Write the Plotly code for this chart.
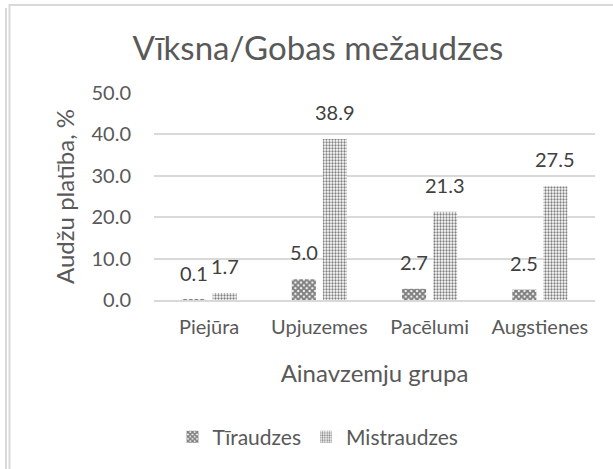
import plotly.graph_objects as go

categories = ["Piejūra", "Upjuzemes", "Pacēlumi", "Augstienes"]
tiraudzes = [0.1, 5.0, 2.7, 2.5]
mistraudzes = [1.7, 38.9, 21.3, 27.5]
y_ticks = [0, 10, 20, 30, 40, 50]
y_tick_labels = ["0.0", "10.0", "20.0", "30.0", "40.0", "50.0"]

W, H = 613, 469
ML, MR, MT, MB = 154, 18, 93, 169
PW, PH = W - ML - MR, H - MT - MB

def px(x):
    return (x - ML) / PW

def py(y):
    return (H - MB - y) / PH

FONT = "Lato"
TXT = "#595959"
LBL = "#404040"
GRID = "#d9d9d9"
BARGAP = 0.436

fig = go.Figure()
fig.add_trace(go.Bar(
    name="Tīraudzes", x=categories, y=tiraudzes,
    marker=dict(color="white", line=dict(width=0),
                pattern=dict(shape="x", fgcolor="black", bgcolor="white", size=4, solidity=0.75)),
))
fig.add_trace(go.Bar(
    name="Mistraudzes", x=categories, y=mistraudzes,
    marker=dict(color="white", line=dict(width=0),
                pattern=dict(shape=".", fgcolor="black", bgcolor="white", size=3, solidity=0.45)),
))

# data labels above each bar (Excel "outside end" style)
slot_px = PW / len(categories) * (1 - BARGAP) / 2
annotations = []
for series, shift in ((tiraudzes, -slot_px / 2), (mistraudzes, slot_px / 2)):
    for cat, val in zip(categories, series):
        annotations.append(dict(
            x=cat, y=val, xref="x", yref="y", text=f"{val:.1f}", showarrow=False,
            xanchor="center", yanchor="bottom", xshift=shift, yshift=13,
            font=dict(family=FONT, size=20, color=LBL),
        ))

shapes = [
    dict(type="line", xref="paper", yref="paper", x0=px(6), x1=px(6), y0=py(8), y1=py(469), line=dict(color=GRID, width=2)),
    dict(type="line", xref="paper", yref="paper", x0=px(9.5), x1=px(9.5), y0=py(4), y1=py(469), line=dict(color=GRID, width=2)),
    dict(type="line", xref="paper", yref="paper", x0=px(9), x1=px(613), y0=py(5), y1=py(5), line=dict(color=GRID, width=2)),
]

fig.update_layout(
    width=W, height=H,
    margin=dict(l=ML, r=MR, t=MT, b=MB),
    paper_bgcolor="white", plot_bgcolor="white",
    barmode="group", bargap=BARGAP, bargroupgap=0.226,
    font=dict(family=FONT, color=TXT, size=18),
    title=dict(text="Vīksna/Gobas mežaudzes", x=318 / W, xanchor="center",
               y=1 - 48 / H, yanchor="middle", font=dict(size=33, color=TXT, family=FONT)),
    xaxis=dict(title=dict(text="Ainavzemju grupa", font=dict(size=24, color=TXT), standoff=28),
               tickfont=dict(size=20, color=TXT), showline=True, linecolor=GRID, linewidth=1.5,
               ticks="", showgrid=False, ticklabelstandoff=8),
    yaxis=dict(title=dict(text="Audžu platība, %", font=dict(size=24, color=TXT), standoff=10),
               range=[0, 50], tickvals=y_ticks, ticktext=y_tick_labels,
               tickfont=dict(size=20, color=TXT), showgrid=True, gridcolor=GRID, gridwidth=1.5,
               zeroline=False, ticks="", ticklabelstandoff=22),
    legend=dict(orientation="h", x=px(318), xanchor="center", y=py(437), yanchor="middle",
                font=dict(size=21, color=TXT), itemwidth=30),
    shapes=shapes,
    annotations=annotations,
)

fig.write_html("out.html", config={"displayModeBar": False},
               post_script="document.body.style.margin='0';document.body.style.overflow='hidden';")
